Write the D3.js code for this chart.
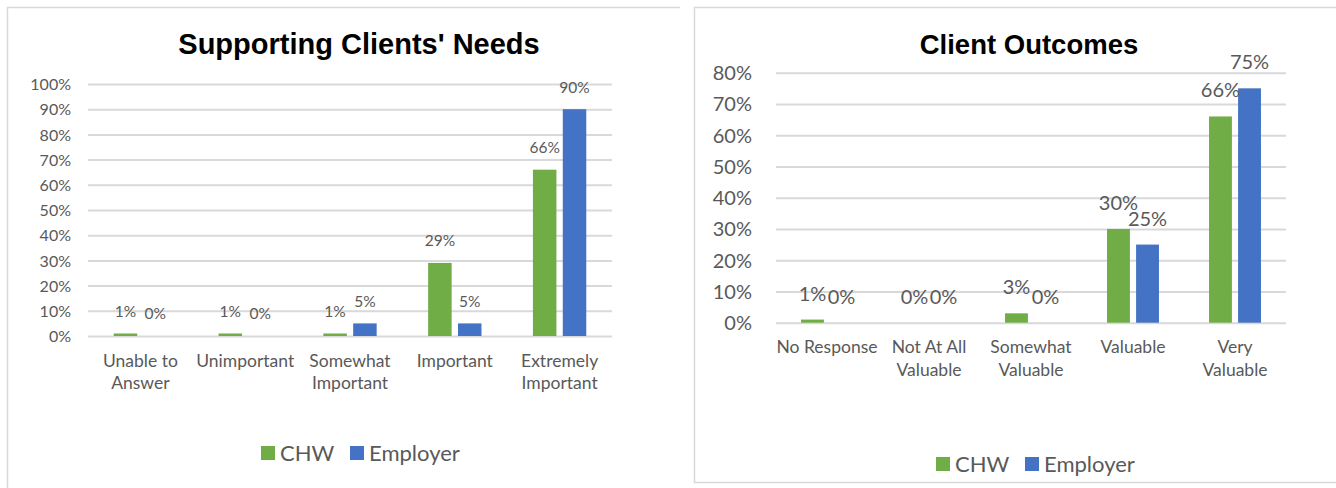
<!DOCTYPE html>
<html>
<head>
<meta charset="utf-8">
<script src="https://cdn.jsdelivr.net/npm/d3@7"></script>
<style>
  html, body { margin: 0; padding: 0; background: #ffffff; }
  svg { display: block; }
  text { font-family: Lato, "Open Sans", sans-serif; fill: #595959; }
  .title { font-family: "Liberation Sans", Arial, sans-serif; font-weight: bold; fill: #000000; }
</style>
</head>
<body>
<svg id="chart" width="1336" height="488"></svg>
<script>
// Series colours and names
const seriesNames = ["CHW", "Employer"];
const seriesColors = ["#70AD47", "#4472C4"];

// Supporting Clients' Needs
const needsCategories = ["Unable to\nAnswer", "Unimportant", "Somewhat\nImportant", "Important", "Extremely\nImportant"];
const needsCHW = [1, 1, 1, 29, 66];
const needsEmployer = [0, 0, 5, 5, 90];
const needsTicks = [0, 10, 20, 30, 40, 50, 60, 70, 80, 90, 100];

// Client Outcomes
const outcomesCategories = ["No Response", "Not At All\nValuable", "Somewhat\nValuable", "Valuable", "Very\nValuable"];
const outcomesCHW = [1, 0, 3, 30, 66];
const outcomesEmployer = [0, 0, 0, 25, 75];
const outcomesTicks = [0, 10, 20, 30, 40, 50, 60, 70, 80];

const svg = d3.select("#chart");

// Panel frames
svg.append("path")
  .attr("d", "M7.5,488 V7.5 H680")
  .attr("fill", "none").attr("stroke", "#d9d9d9").attr("stroke-width", 1.5);
svg.append("path")
  .attr("d", "M1336,7.5 H694.5 V482.5 H1336")
  .attr("fill", "none").attr("stroke", "#d9d9d9").attr("stroke-width", 1.5);

function drawChart(cfg) {
  const g = svg.append("g");
  const data = cfg.categories.map((c, i) => ({
    category: c,
    values: [cfg.series[0][i], cfg.series[1][i]]
  }));

  const x0 = d3.scaleBand().domain(cfg.categories).range([cfg.left, cfg.right]).padding(0);
  const x1 = d3.scaleBand().domain(seriesNames).range([0, x0.bandwidth()])
    .paddingInner(0.2126).paddingOuter(0.862);
  const y = d3.scaleLinear().domain([0, d3.max(cfg.ticks)]).range([cfg.bottom, cfg.top]);

  // Gridlines and value axis labels
  const yAxis = d3.axisLeft(y).tickValues(cfg.ticks).tickFormat(d => d + "%")
    .tickSizeInner(-(cfg.right - cfg.left)).tickSizeOuter(0).tickPadding(cfg.tickPad);
  const ya = g.append("g").attr("transform", `translate(${cfg.left},0)`).call(yAxis);
  ya.select(".domain").remove();
  ya.selectAll(".tick line").attr("stroke", "#d9d9d9").attr("stroke-width", 2);
  ya.selectAll(".tick text")
    .style("font-family", "Lato, 'Open Sans', sans-serif")
    .style("font-size", cfg.tickFont + "px").attr("fill", "#595959")
    .attr("dy", "0.35em");

  // Bars
  const groups = g.selectAll(".grp").data(data).join("g")
    .attr("transform", d => `translate(${x0(d.category)},0)`);
  groups.selectAll("rect").data(d => d.values.map((v, k) => ({ v, k }))).join("rect")
    .attr("x", d => x1(seriesNames[d.k]))
    .attr("width", x1.bandwidth())
    .attr("y", d => y(d.v))
    .attr("height", d => cfg.bottom - y(d.v))
    .attr("fill", d => seriesColors[d.k]);

  // Value labels above bars
  groups.selectAll("text.val").data(d => d.values.map((v, k) => ({ v, k }))).join("text")
    .attr("class", "val")
    .attr("x", d => x1(seriesNames[d.k]) + x1.bandwidth() / 2)
    .attr("y", d => y(d.v) - cfg.labelOffset)
    .attr("dy", "0.35em")
    .attr("text-anchor", "middle")
    .style("font-size", cfg.labelFont + "px")
    .text(d => d.v + "%");

  // Category labels
  const cats = g.selectAll(".cat").data(cfg.categories).join("text")
    .attr("class", "cat")
    .attr("text-anchor", "middle")
    .attr("transform", d => `translate(${x0(d) + x0.bandwidth() / 2},${cfg.bottom + cfg.catOffset})`)
    .style("font-size", cfg.catFont + "px");
  cats.selectAll("tspan").data(d => d.split("\n")).join("tspan")
    .attr("x", 0)
    .attr("y", (d, i) => i * cfg.catLine)
    .attr("dy", "0.35em")
    .text(d => d);

  // Title
  g.append("text").attr("class", "title")
    .attr("x", cfg.titleX).attr("y", cfg.titleY)
    .attr("text-anchor", "middle")
    .style("font-size", cfg.titleFont + "px")
    .text(cfg.title);

  // Legend
  const lg = g.append("g").attr("transform", `translate(${cfg.legendX},${cfg.legendY})`);
  const items = [{ name: seriesNames[0], dx: 0 }, { name: seriesNames[1], dx: cfg.legendGap }];
  items.forEach((it, k) => {
    lg.append("rect").attr("x", it.dx).attr("y", -7).attr("width", 14).attr("height", 14)
      .attr("fill", seriesColors[k]);
    lg.append("text").attr("x", it.dx + 19).attr("y", 0).attr("dy", "0.35em")
      .style("font-size", cfg.legendFont + "px").text(it.name);
  });
}

drawChart({
  title: "Supporting Clients' Needs", titleX: 359, titleY: 54, titleFont: 29,
  categories: needsCategories, series: [needsCHW, needsEmployer], ticks: needsTicks,
  left: 88, right: 612, top: 84, bottom: 336,
  tickPad: 17, tickFont: 16, labelFont: 15.5, labelOffset: 22,
  catFont: 17.5, catOffset: 24.5, catLine: 22.5,
  legendX: 261, legendY: 453, legendGap: 89, legendFont: 22
});

drawChart({
  title: "Client Outcomes", titleX: 1029, titleY: 54, titleFont: 27.5,
  categories: outcomesCategories, series: [outcomesCHW, outcomesEmployer], ticks: outcomesTicks,
  left: 776, right: 1286, top: 72.7, bottom: 322.7,
  tickPad: 24, tickFont: 20, labelFont: 20, labelOffset: 26,
  catFont: 17.5, catOffset: 24, catLine: 23,
  legendX: 936, legendY: 464, legendGap: 89, legendFont: 22
});
</script>
</body>
</html>
